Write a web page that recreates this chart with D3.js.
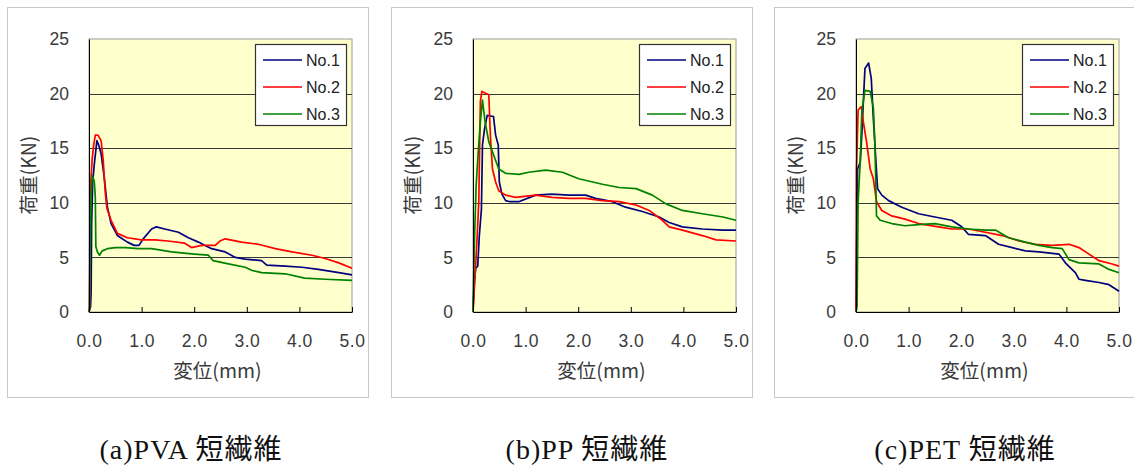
<!DOCTYPE html>
<html>
<head>
<meta charset="utf-8">
<script src="https://cdn.jsdelivr.net/npm/d3@7"></script>
<style>
  body { margin: 0; background: #fff; }
  svg { display: block; }
  .tick text { font-family: "Liberation Sans", Arial, sans-serif; font-size: 17.5px; fill: #3a3a3a; }
</style>
</head>
<body>
<script>
// load (kN) vs displacement (mm)
var pvaNo1 = [[0,0],[0.03,0.5],[0.04,1.8],[0.05,8],[0.07,11.9],[0.1,13.5],[0.15,15.7],[0.19,15.2],[0.23,14.5],[0.29,12.3],[0.35,9.6],[0.42,8.1],[0.54,7.0],[0.73,6.4],[0.86,6.1],[0.95,6.1],[1.03,6.7],[1.19,7.6],[1.28,7.8],[1.44,7.6],[1.7,7.3],[1.89,6.8],[2.08,6.4],[2.33,5.8],[2.59,5.5],[2.78,5.0],[2.97,4.85],[3.28,4.7],[3.38,4.3],[3.73,4.2],[4.05,4.1],[4.36,3.9],[4.75,3.6],[5.0,3.4]];
var pvaNo2 = [[0,0],[0.01,0.5],[0.02,10.8],[0.06,14.0],[0.09,15.3],[0.12,16.2],[0.17,16.2],[0.23,15.7],[0.27,13.9],[0.31,10.9],[0.34,9.5],[0.42,8.4],[0.54,7.2],[0.73,6.8],[1.0,6.6],[1.25,6.6],[1.5,6.5],[1.82,6.3],[1.95,5.9],[2.14,6.1],[2.4,6.1],[2.49,6.5],[2.59,6.7],[2.9,6.4],[3.22,6.2],[3.54,5.8],[3.86,5.5],[4.24,5.2],[4.49,4.9],[4.75,4.5],[5.0,4.0]];
var pvaNo3 = [[0,0],[0.01,0.3],[0.02,5.5],[0.04,10.5],[0.06,12.5],[0.1,12.0],[0.12,10.5],[0.13,6.0],[0.16,5.5],[0.2,5.2],[0.25,5.6],[0.35,5.8],[0.5,5.9],[0.7,5.9],[0.93,5.8],[1.19,5.8],[1.57,5.5],[2.0,5.3],[2.27,5.2],[2.36,4.7],[2.65,4.4],[2.97,4.1],[3.1,3.8],[3.28,3.6],[3.73,3.5],[4.1,3.1],[4.49,3.0],[5.0,2.9]];

var ppNo1 = [[0,0],[0.02,2.5],[0.05,4.0],[0.09,4.2],[0.12,7.0],[0.16,9.4],[0.18,15.3],[0.22,16.8],[0.27,18.0],[0.39,17.9],[0.43,16.2],[0.48,15.3],[0.5,11.9],[0.55,10.8],[0.62,10.2],[0.7,10.1],[0.87,10.1],[1.19,10.7],[1.5,10.8],[1.82,10.7],[2.14,10.7],[2.33,10.4],[2.65,10.1],[2.9,9.6],[3.22,9.2],[3.54,8.7],[3.73,8.2],[3.98,7.8],[4.36,7.6],[4.75,7.5],[5.0,7.5]];
var ppNo2 = [[0,0],[0.01,0.9],[0.04,3.3],[0.08,7.0],[0.11,10.1],[0.14,19.3],[0.17,20.2],[0.3,19.9],[0.33,16.2],[0.37,13.1],[0.43,11.9],[0.49,11.1],[0.62,10.7],[0.81,10.5],[1.19,10.7],[1.5,10.5],[1.82,10.4],[2.14,10.4],[2.46,10.2],[2.78,10.1],[3.1,9.8],[3.35,9.3],[3.6,8.4],[3.73,7.8],[3.98,7.5],[4.36,7.0],[4.62,6.6],[5.0,6.5]];
var ppNo3 = [[0,0],[0.005,1.2],[0.03,7.0],[0.06,11.6],[0.1,14.7],[0.14,17.4],[0.18,19.4],[0.23,17.4],[0.3,15.6],[0.39,14.4],[0.49,13.1],[0.62,12.7],[0.87,12.6],[1.06,12.8],[1.38,13.0],[1.7,12.8],[2.01,12.2],[2.46,11.7],[2.78,11.4],[3.1,11.3],[3.41,10.7],[3.67,9.9],[3.98,9.3],[4.36,9.0],[4.75,8.7],[5.0,8.4]];

var petNo1 = [[0,0],[0.01,5.5],[0.03,13.1],[0.08,13.7],[0.11,16.2],[0.14,19.3],[0.17,22.3],[0.24,22.8],[0.29,21.4],[0.33,17.7],[0.38,13.7],[0.41,11.3],[0.49,10.7],[0.62,10.2],[0.87,9.6],[1.19,9.0],[1.5,8.7],[1.82,8.4],[2.01,7.8],[2.14,7.1],[2.46,7.0],[2.71,6.2],[2.97,5.9],[3.22,5.6],[3.48,5.5],[3.86,5.3],[3.98,4.5],[4.17,3.6],[4.24,3.0],[4.36,2.9],[4.62,2.7],[4.81,2.5],[5.0,1.9]];
var petNo2 = [[0,0],[0.005,2],[0.01,13.1],[0.04,18.5],[0.1,18.8],[0.14,17.4],[0.2,15.6],[0.27,13.1],[0.33,12.2],[0.39,10.1],[0.49,9.3],[0.68,8.8],[0.93,8.5],[1.19,8.1],[1.57,7.8],[1.82,7.6],[2.14,7.6],[2.46,7.3],[2.78,7.0],[3.1,6.5],[3.41,6.2],[3.73,6.1],[4.05,6.2],[4.24,5.9],[4.43,5.3],[4.62,4.7],[4.87,4.4],[5.0,4.2]];
var petNo3 = [[0,0],[0.02,0.5],[0.04,10.1],[0.08,13.7],[0.11,18.3],[0.17,20.3],[0.27,20.2],[0.33,18.7],[0.36,15.3],[0.39,8.8],[0.46,8.4],[0.68,8.1],[0.93,7.9],[1.19,8.0],[1.5,8.1],[1.82,7.8],[2.14,7.6],[2.46,7.5],[2.65,7.5],[2.9,6.8],[3.22,6.4],[3.48,6.1],[3.73,5.9],[3.92,5.8],[4.05,4.8],[4.24,4.5],[4.62,4.4],[4.81,3.9],[5.0,3.6]];

var seriesNames = ["No.1", "No.2", "No.3"];
var seriesColors = ["#000080", "#ff0000", "#008000"];
var captions = ["(a)PVA 短繊維", "(b)PP 短繊維", "(c)PET 短繊維"];
var captionX = [191, 587, 965];
var xTicks = [0, 1, 2, 3, 4, 5];
var yTicks = [0, 5, 10, 15, 20, 25];

var panels = [[pvaNo1, pvaNo2, pvaNo3], [ppNo1, ppNo2, ppNo3], [petNo1, petNo2, petNo3]];
var panelLeft = [7, 391, 774];

var width = 1134, height = 470;
var svg = d3.select("body").append("svg")
  .attr("width", width)
  .attr("height", height);

var plotW = 263, plotH = 273, plotTop = 39;

var x = d3.scaleLinear().domain([0, 5]).range([0, plotW]);
var y = d3.scaleLinear().domain([0, 25]).range([plotH, 0]);

var line = d3.line()
  .x(function(d) { return x(d[0]); })
  .y(function(d) { return y(d[1]); });

panels.forEach(function(series, p) {
  var left = panelLeft[p];

  // outer frame
  svg.append("rect")
    .attr("x", left + 0.5).attr("y", 7.5)
    .attr("width", 361).attr("height", 390)
    .attr("fill", "#fff")
    .attr("stroke", "#c8c8c8");

  var g = svg.append("g")
    .attr("transform", "translate(" + (left + 82) + "," + plotTop + ")");

  g.append("rect")
    .attr("width", plotW).attr("height", plotH)
    .attr("fill", "#ffffcc")
    .attr("stroke", "#9a9a9a");

  // grid lines
  g.selectAll(".grid")
    .data([5, 10, 15, 20])
    .enter().append("line")
    .attr("x1", 0).attr("x2", plotW)
    .attr("y1", function(d) { return Math.round(y(d)) + 0.5; })
    .attr("y2", function(d) { return Math.round(y(d)) + 0.5; })
    .attr("stroke", "#3a3a3a");

  // curves
  series.forEach(function(s, i) {
    g.append("path")
      .datum(s)
      .attr("d", line)
      .attr("fill", "none")
      .attr("stroke", seriesColors[i])
      .attr("stroke-width", 1.7)
      .attr("stroke-linejoin", "round");
  });

  // axes
  var xAxis = g.append("g")
    .attr("transform", "translate(0," + plotH + ")")
    .call(d3.axisBottom(x).tickValues(xTicks).tickSizeInner(-5).tickSizeOuter(0).tickPadding(23)
      .tickFormat(d3.format(".1f")));
  xAxis.select(".domain").attr("stroke", "#000");
  xAxis.selectAll(".tick text").attr("letter-spacing", 0.5);

  var yAxis = g.append("g")
    .call(d3.axisLeft(y).tickValues(yTicks).tickSize(0).tickPadding(20));
  yAxis.select(".domain").attr("stroke", "#000");

  // axis titles
  g.append("text")
    .attr("x", plotW / 2 - 3).attr("y", 339)
    .attr("text-anchor", "middle")
    .attr("font-family", "'Noto Sans CJK JP', sans-serif")
    .attr("font-size", 19.5)
    .attr("fill", "#3a3a3a")
    .text("変位(mm)");

  g.append("text")
    .attr("transform", "translate(-53,136) rotate(-90)")
    .attr("text-anchor", "middle")
    .attr("font-family", "'Noto Sans CJK JP', sans-serif")
    .attr("font-size", 19.5)
    .attr("fill", "#3a3a3a")
    .text("荷重(KN)");

  // legend
  var lg = g.append("g").attr("transform", "translate(166,5)");
  lg.append("rect")
    .attr("x", 0.5).attr("y", 0.5)
    .attr("width", 91).attr("height", 81)
    .attr("fill", "#fff")
    .attr("stroke", "#333")
    .attr("stroke-width", 1.2);
  seriesNames.forEach(function(n, i) {
    var ry = 16 + i * 27;
    lg.append("line")
      .attr("x1", 8).attr("x2", 47)
      .attr("y1", ry).attr("y2", ry)
      .attr("stroke", seriesColors[i])
      .attr("stroke-width", 1.3);
    lg.append("text")
      .attr("x", 51).attr("y", ry + 6)
      .attr("font-family", "'Liberation Sans', Arial, sans-serif")
      .attr("font-size", 16)
      .attr("fill", "#222")
      .text(n);
  });
});

// captions under each panel
svg.selectAll(".caption")
  .data(captions)
  .enter().append("text")
  .attr("x", function(d, i) { return captionX[i]; })
  .attr("y", 459)
  .attr("text-anchor", "middle")
  .attr("font-family", "'Liberation Serif', 'Noto Sans CJK JP', serif")
  .attr("font-size", 28)
  .attr("letter-spacing", 1)
  .attr("fill", "#111")
  .text(function(d) { return d; });
</script>
</body>
</html>
